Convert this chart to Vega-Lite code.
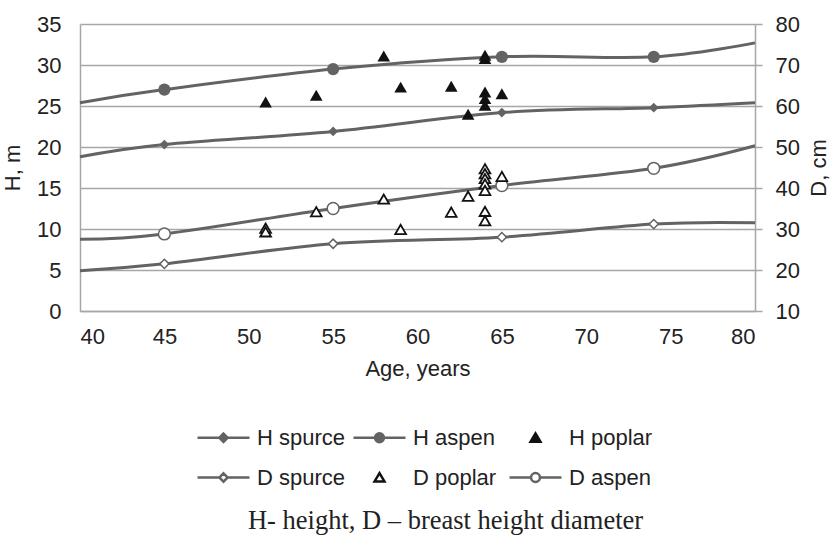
{
  "$schema": "https://vega.github.io/schema/vega-lite/v6.json",
  "width": 675,
  "height": 287,
  "autosize": "none",
  "padding": {"left": 80, "top": 24, "right": 75, "bottom": 224},
  "background": "white",
  "title": {
    "text": "H- height, D – breast height diameter",
    "orient": "bottom",
    "anchor": "middle",
    "frame": "group",
    "font": "Liberation Serif",
    "fontSize": 26.5,
    "fontWeight": "normal",
    "color": "#222222",
    "offset": 19,
    "dx": 28
  },
  "datasets": {
    "curves": [
      {"series": "H spurce", "age": 40, "value": 18.8},
      {"series": "H spurce", "age": 45, "value": 20.3},
      {"series": "H spurce", "age": 55, "value": 21.9},
      {"series": "H spurce", "age": 65, "value": 24.2},
      {"series": "H spurce", "age": 74, "value": 24.8},
      {"series": "H spurce", "age": 80, "value": 25.4},
      {"series": "H aspen", "age": 40, "value": 25.4},
      {"series": "H aspen", "age": 45, "value": 27.0},
      {"series": "H aspen", "age": 55, "value": 29.5},
      {"series": "H aspen", "age": 65, "value": 31.0},
      {"series": "H aspen", "age": 74, "value": 31.0},
      {"series": "H aspen", "age": 80, "value": 32.7},
      {"series": "D spurce", "age": 40, "value": 19.8},
      {"series": "D spurce", "age": 45, "value": 21.5},
      {"series": "D spurce", "age": 55, "value": 26.4},
      {"series": "D spurce", "age": 65, "value": 28.0},
      {"series": "D spurce", "age": 74, "value": 31.2},
      {"series": "D spurce", "age": 80, "value": 31.5},
      {"series": "D aspen", "age": 40, "value": 27.5},
      {"series": "D aspen", "age": 45, "value": 28.8},
      {"series": "D aspen", "age": 55, "value": 35.0},
      {"series": "D aspen", "age": 65, "value": 40.6},
      {"series": "D aspen", "age": 74, "value": 44.8},
      {"series": "D aspen", "age": 80, "value": 50.3}
    ],
    "poplar": [
      {"series": "H poplar", "age": 51, "value": 25.5},
      {"series": "H poplar", "age": 54, "value": 26.3},
      {"series": "H poplar", "age": 58, "value": 31.1},
      {"series": "H poplar", "age": 59, "value": 27.3},
      {"series": "H poplar", "age": 62, "value": 27.4},
      {"series": "H poplar", "age": 63, "value": 24.0},
      {"series": "H poplar", "age": 64, "value": 31.2},
      {"series": "H poplar", "age": 64, "value": 30.8},
      {"series": "H poplar", "age": 64, "value": 26.7},
      {"series": "H poplar", "age": 64, "value": 25.9},
      {"series": "H poplar", "age": 64, "value": 25.1},
      {"series": "H poplar", "age": 65, "value": 26.5},
      {"series": "D poplar", "age": 51, "value": 30.2},
      {"series": "D poplar", "age": 51, "value": 29.3},
      {"series": "D poplar", "age": 54, "value": 34.2},
      {"series": "D poplar", "age": 58, "value": 37.3},
      {"series": "D poplar", "age": 59, "value": 29.9},
      {"series": "D poplar", "age": 62, "value": 34.1},
      {"series": "D poplar", "age": 63, "value": 38.0},
      {"series": "D poplar", "age": 64, "value": 44.7},
      {"series": "D poplar", "age": 64, "value": 43.5},
      {"series": "D poplar", "age": 64, "value": 42.3},
      {"series": "D poplar", "age": 64, "value": 41.0},
      {"series": "D poplar", "age": 64, "value": 39.4},
      {"series": "D poplar", "age": 64, "value": 34.3},
      {"series": "D poplar", "age": 64, "value": 32.0},
      {"series": "D poplar", "age": 65, "value": 42.8}
    ],
    "legendItems": [
      {"series": "H spurce"},
      {"series": "H aspen"},
      {"series": "H poplar"},
      {"series": "D spurce"},
      {"series": "D poplar"},
      {"series": "D aspen"}
    ]
  },
  "config": {
    "view": {"stroke": null},
    "font": "Liberation Sans",
    "axis": {
      "labelFont": "Liberation Sans",
      "titleFont": "Liberation Sans",
      "labelFontSize": 22,
      "titleFontSize": 22,
      "titleFontWeight": "normal",
      "labelColor": "#222222",
      "titleColor": "#222222",
      "gridColor": "#a6a6a6",
      "gridWidth": 1.5,
      "domainColor": "#a6a6a6",
      "domainWidth": 1.5,
      "tickColor": "#a6a6a6",
      "tickWidth": 1.5
    },
    "legend": {
      "orient": "none",
      "legendX": 116,
      "legendY": 386,
      "direction": "horizontal",
      "columns": 3,
      "symbolSize": 2704,
      "symbolStrokeWidth": 2.5,
      "labelFont": "Liberation Sans",
      "labelFontSize": 22,
      "labelColor": "#222222",
      "labelOffset": 6,
      "labelLimit": 0,
      "columnPadding": 2,
      "rowPadding": 1,
      "gridAlign": "all",
      "padding": 0
    }
  },
  "layer": [
    {
      "encoding": {
        "x": {
          "field": "age", "type": "quantitative",
          "scale": {"domain": [40, 80], "nice": false, "zero": false},
          "axis": {"title": "Age, years", "values": [40, 45, 50, 55, 60, 65, 70, 75, 80], "grid": false, "ticks": false, "tickSize": 0, "labelPadding": 15, "titlePadding": 11}
        },
        "y": {
          "field": "value", "type": "quantitative",
          "scale": {"domain": [0, 35], "nice": false, "zero": false},
          "axis": {"title": "H, m", "orient": "left", "values": [0, 5, 10, 15, 20, 25, 30, 35], "grid": true, "ticks": false, "tickSize": 0, "labelPadding": 19, "titlePadding": 12}
        }
      },
      "layer": [
        {
          "data": {"name": "curves"},
          "transform": [{"filter": "datum.series === 'H spurce' || datum.series === 'H aspen'"}],
          "mark": {"type": "line", "interpolate": "cardinal", "color": "#636363", "strokeWidth": 3},
          "encoding": {"detail": {"field": "series"}}
        },
        {
          "data": {"name": "curves"},
          "transform": [{"filter": "datum.series === 'H spurce' && datum.age > 40 && datum.age < 80"}],
          "mark": {"type": "point", "shape": "diamond", "filled": true, "fill": "#636363", "strokeWidth": 0, "size": 95, "opacity": 1}
        },
        {
          "data": {"name": "curves"},
          "transform": [{"filter": "datum.series === 'H aspen' && datum.age > 40 && datum.age < 80"}],
          "mark": {"type": "point", "shape": "circle", "filled": true, "fill": "#636363", "strokeWidth": 0, "size": 150, "opacity": 1}
        },
        {
          "data": {"name": "poplar"},
          "transform": [{"filter": "datum.series === 'H poplar'"}],
          "mark": {"type": "point", "shape": "triangle-up", "filled": true, "fill": "#111111", "strokeWidth": 0, "size": 160, "opacity": 1}
        },
        {
          "data": {"name": "legendItems"},
          "transform": [{"filter": "false"}],
          "mark": {"type": "point", "filled": true, "opacity": 1},
          "encoding": {
            "shape": {
              "field": "series", "type": "nominal",
              "scale": {
                "domain": ["H spurce", "H aspen", "H poplar", "D spurce", "D poplar", "D aspen"],
                "range": [
                  "M-1,0H1M0,-0.16L0.16,0L0,0.16L-0.16,0Z",
                  "M-1,0H1M-0.17,0A0.17,0.17,0,1,1,0.17,0A0.17,0.17,0,1,1,-0.17,0Z",
                  "M0,-0.17L0.19,0.15L-0.19,0.15Z",
                  "M-1,0H-0.16M0.16,0H1M0,-0.16L0.16,0L0,0.16L-0.16,0Z",
                  "M0,-0.17L0.19,0.15L-0.19,0.15Z",
                  "M-1,0H-0.17M0.17,0H1M-0.17,0A0.17,0.17,0,1,1,0.17,0A0.17,0.17,0,1,1,-0.17,0Z"
                ]
              },
              "legend": {"title": null}
            },
            "fill": {
              "field": "series", "type": "nominal",
              "scale": {
                "domain": ["H spurce", "H aspen", "H poplar", "D spurce", "D poplar", "D aspen"],
                "range": ["#636363", "#636363", "#111111", "#ffffff", "#ffffff", "#ffffff"]
              },
              "legend": {"title": null}
            },
            "stroke": {
              "field": "series", "type": "nominal",
              "scale": {
                "domain": ["H spurce", "H aspen", "H poplar", "D spurce", "D poplar", "D aspen"],
                "range": ["#636363", "#636363", "#111111", "#636363", "#111111", "#636363"]
              },
              "legend": {"title": null}
            }
          }
        }
      ]
    },
    {
      "encoding": {
        "x": {
          "field": "age", "type": "quantitative",
          "scale": {"domain": [40, 80], "nice": false, "zero": false},
          "axis": {"title": "Age, years", "values": [40, 45, 50, 55, 60, 65, 70, 75, 80], "grid": false, "ticks": false, "tickSize": 0, "labelPadding": 15, "titlePadding": 11}
        },
        "y": {
          "field": "value", "type": "quantitative",
          "scale": {"domain": [10, 80], "nice": false, "zero": false},
          "axis": {"title": "D, cm", "orient": "right", "values": [10, 20, 30, 40, 50, 60, 70, 80], "grid": false, "ticks": true, "tickSize": 7, "labelPadding": 13, "titlePadding": 9, "titleAngle": 270, "titleBaseline": "top"}
        }
      },
      "layer": [
        {
          "data": {"name": "curves"},
          "transform": [{"filter": "datum.series === 'D spurce' || datum.series === 'D aspen'"}],
          "mark": {"type": "line", "interpolate": "cardinal", "color": "#636363", "strokeWidth": 3},
          "encoding": {"detail": {"field": "series"}}
        },
        {
          "data": {"name": "curves"},
          "transform": [{"filter": "datum.series === 'D spurce' && datum.age > 40 && datum.age < 80"}],
          "mark": {"type": "point", "shape": "diamond", "filled": true, "fill": "#ffffff", "stroke": "#636363", "strokeWidth": 1.5, "size": 85, "opacity": 1}
        },
        {
          "data": {"name": "curves"},
          "transform": [{"filter": "datum.series === 'D aspen' && datum.age > 40 && datum.age < 80"}],
          "mark": {"type": "point", "shape": "circle", "filled": true, "fill": "#ffffff", "stroke": "#636363", "strokeWidth": 1.5, "size": 140, "opacity": 1}
        },
        {
          "data": {"name": "poplar"},
          "transform": [{"filter": "datum.series === 'D poplar'"}],
          "mark": {"type": "point", "shape": "triangle-up", "filled": true, "fill": "#ffffff", "stroke": "#111111", "strokeWidth": 1.8, "size": 115, "opacity": 1}
        }
      ]
    }
  ],
  "resolve": {"scale": {"y": "independent"}, "axis": {"y": "independent"}}
}
